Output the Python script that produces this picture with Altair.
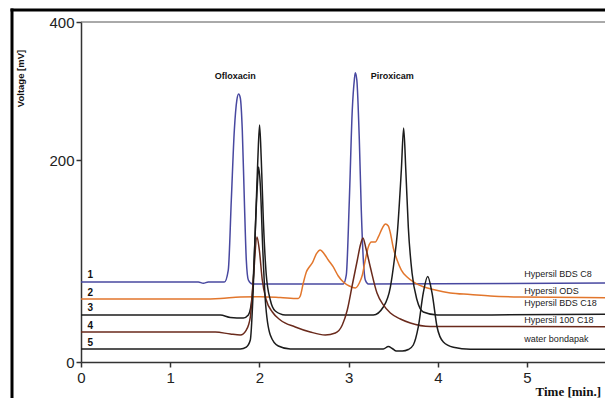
import altair as alt
import pandas as pd

# ---- data (time in min, signal in axis units) ----
series_names = ["Hypersil BDS C8", "Hypersil  ODS", "Hypersil BDS C18", "Hypersil 100 C18", "water bondapak"]
series_colors = ["#4848a0", "#e2762c", "#1c1c1c", "#6a2a1c", "#1c1c1c"]
series_numbers = ["1", "2", "3", "4", "5"]

t1 = [0, 1.315, 1.371, 1.427, 1.607, 1.651, 1.685, 1.719, 1.747, 1.767, 1.786, 1.808, 1.831, 1.853, 1.876, 1.920,
      2.941, 2.974, 3.008, 3.041, 3.064, 3.075, 3.092, 3.120, 3.142, 3.165, 3.187, 3.221, 5.96]
v1 = [94.1, 94.1, 92.6, 94.1, 94.1, 108.2, 190.6, 272.9, 308.2, 315.3, 310.6, 272.9, 190.6, 120.0, 96.5, 91.8,
      91.8, 102.4, 190.6, 296.5, 331.8, 340.4, 331.8, 261.2, 178.8, 120.0, 96.5, 91.8, 92.9]

t2 = [0, 1.337, 1.562, 1.786, 2.010, 2.234, 2.436, 2.458, 2.492, 2.526, 2.559, 2.593, 2.638, 2.682, 2.727, 2.772,
      2.828, 2.884, 2.941, 3.008, 3.075, 3.120, 3.154, 3.187, 3.221, 3.255, 3.299, 3.333, 3.378, 3.412, 3.445,
      3.468, 3.501, 3.543, 3.591, 3.655, 3.748, 3.837, 3.972, 4.140, 4.364, 4.589, 4.925, 5.96]
v2 = [74.1, 74.1, 74.7, 76.5, 76.8, 75.9, 74.7, 77.6, 92.9, 105.9, 111.8, 116.5, 127.1, 131.8, 127.1, 120.0,
      111.8, 101.2, 94.1, 89.4, 87.1, 92.9, 102.4, 120.0, 135.3, 141.2, 141.2, 147.1, 157.6, 162.4, 160.0,
      151.8, 134.1, 120.0, 108.2, 100.0, 92.9, 88.6, 84.7, 81.2, 79.4, 77.6, 76.5, 75.6]

t3 = [0, 1.562, 1.674, 1.820, 1.876, 1.920, 1.954, 1.982, 2.002, 2.021, 2.044, 2.077, 2.122, 2.178, 2.290,
      3.277, 3.389, 3.468, 3.512, 3.546, 3.591, 3.617, 3.641, 3.669, 3.711, 3.767, 3.837, 3.994, 5.96]
v3 = [55.3, 55.3, 52.4, 51.8, 55.3, 78.8, 155.3, 237.6, 278.8, 237.6, 167.1, 102.4, 72.9, 60.0, 55.3,
      55.3, 64.7, 88.2, 120.0, 151.8, 225.9, 275.3, 225.9, 158.8, 104.7, 72.9, 58.8, 55.3, 56.1]

t4 = [0, 1.506, 1.674, 1.786, 1.853, 1.898, 1.931, 1.973, 1.999, 2.032, 2.077, 2.145, 2.234, 2.402, 2.570,
      2.738, 2.851, 2.929, 2.985, 3.041, 3.098, 3.132, 3.161, 3.193, 3.243, 3.318, 3.389, 3.468, 3.580,
      3.692, 3.917, 5.96]
v4 = [35.3, 35.3, 32.9, 31.8, 37.6, 52.9, 96.5, 147.1, 131.8, 96.5, 72.9, 58.8, 49.4, 41.2, 35.3,
      31.8, 34.1, 43.5, 61.2, 90.6, 120.0, 137.6, 145.9, 134.1, 111.8, 81.2, 67.1, 57.6, 50.6,
      45.9, 41.8, 41.5]

t5 = [0, 1.786, 1.853, 1.898, 1.926, 1.954, 1.977, 1.991, 2.010, 2.038, 2.066, 2.122, 2.212, 2.346,
      3.389, 3.445, 3.490, 3.535, 3.602, 3.669, 3.725, 3.781, 3.837, 3.886, 3.935, 3.991, 4.062, 4.174,
      4.364, 5.96]
v5 = [15.3, 15.3, 17.6, 25.9, 72.9, 155.3, 208.2, 229.4, 208.2, 131.8, 72.9, 31.8, 18.8, 15.3,
      15.3, 18.2, 15.9, 12.9, 12.9, 14.7, 20.0, 41.2, 81.2, 100.6, 81.2, 41.5, 23.5, 17.3,
      14.9, 14.9]

# right-hand labels and left numbers (positions in data units)
label_t = [4.97, 4.97, 4.97, 4.97, 4.97]
label_v = [103.5, 83.9, 69.4, 49.4, 27.1]
number_t = [0.105, 0.105, 0.105, 0.105, 0.105]
number_v = [102.4, 81.2, 63.5, 42.7, 22.4]

compound_names = ["Ofloxacin", "Piroxicam"]
compound_t = [1.73, 3.49]
compound_v = [336.5, 336.5]

x_ticks = [0, 1, 2, 3, 4, 5]
y_tick_values = [0, 237.6, 400]
y_tick_labels = ["0", "200", "400"]

# ---- build tables ----
rows = []
for name, ts, vs in zip(series_names, [t1, t2, t3, t4, t5], [v1, v2, v3, v4, v5]):
    for t, v in zip(ts, vs):
        rows.append({"series": name, "t": t, "v": v})
df = pd.DataFrame(rows)

df_labels = pd.DataFrame({"text": series_names, "t": label_t, "v": label_v})
df_numbers = pd.DataFrame({"text": series_numbers, "t": number_t, "v": number_v})
df_compounds = pd.DataFrame({"text": compound_names, "t": compound_t, "v": compound_v})

label_expr = " : ".join(
    [f"abs(datum.value - {val}) < 1 ? '{lab}'" for val, lab in zip(y_tick_values, y_tick_labels)]
) + " : ''"

W, H = 524, 340
xscale = alt.Scale(domain=[0, 5.874], nice=False, zero=False)
yscale = alt.Scale(domain=[0, 400], nice=False, zero=False)

lines = alt.Chart(df).mark_line(strokeWidth=1.5, interpolate="monotone", clip=True).encode(
    x=alt.X("t:Q", scale=xscale, axis=alt.Axis(
        values=x_ticks, format="d", grid=False, labelFlush=False,
        domainColor="#333333", domainWidth=1.5, tickColor="#333333", tickWidth=1.5, tickSize=5,
        labelFont="Liberation Sans", labelFontSize=15, labelColor="#222222", labelPadding=3,
        title="Time [min.]", titleFont="Liberation Serif", titleFontSize=13, titleFontWeight="bold",
        titleColor="#111111", titleX=454, titleY=33, titleAlign="left", titleBaseline="alphabetic")),
    y=alt.Y("v:Q", scale=yscale, axis=alt.Axis(
        values=y_tick_values, labelExpr=label_expr, grid=False,
        domainColor="#333333", domainWidth=1.5, tickColor="#333333", tickWidth=1.5, tickSize=5,
        labelFont="Liberation Sans", labelFontSize=15, labelColor="#222222", labelPadding=2,
        title="Voltage [mV]", titleFont="Liberation Sans", titleFontSize=9.5, titleFontWeight="bold",
        titleColor="#111111", titleX=-61, titleY=56, titleAngle=270, titleAlign="center",
        titleBaseline="middle")),
    color=alt.Color("series:N", scale=alt.Scale(domain=series_names, range=series_colors), legend=None),
    order=alt.Order("t:Q"),
)

labels = alt.Chart(df_labels).mark_text(align="left", baseline="middle", font="Liberation Sans",
                                        fontSize=9, color="#222222").encode(
    x=alt.X("t:Q", scale=xscale), y=alt.Y("v:Q", scale=yscale), text="text:N")

numbers = alt.Chart(df_numbers).mark_text(align="center", baseline="middle", font="Liberation Sans",
                                          fontSize=10, fontWeight="bold", color="#111111").encode(
    x=alt.X("t:Q", scale=xscale), y=alt.Y("v:Q", scale=yscale), text="text:N")

compounds = alt.Chart(df_compounds).mark_text(align="center", baseline="middle", font="Liberation Sans",
                                              fontSize=9, fontWeight="bold", color="#111111").encode(
    x=alt.X("t:Q", scale=xscale), y=alt.Y("v:Q", scale=yscale), text="text:N")

one = pd.DataFrame({"a": [0]})
top_line = alt.Chart(one).mark_rule(color="#555555", strokeWidth=1).encode(
    x=alt.value(0), x2=alt.value(W), y=alt.value(0))
frame_left = alt.Chart(one).mark_rule(color="#000000", strokeWidth=3).encode(
    x=alt.value(-69), y=alt.value(-13.5), y2=alt.value(420))
frame_top = alt.Chart(one).mark_rule(color="#000000", strokeWidth=3).encode(
    x=alt.value(-70.5), x2=alt.value(W + 10), y=alt.value(-12))

chart = alt.layer(frame_left, frame_top, top_line, lines, labels, numbers, compounds).properties(
    width=W, height=H,
    autosize=alt.AutoSizeParams(type="none"),
    padding={"left": 73, "top": 14, "right": 0, "bottom": 36},
    background="white",
).configure_view(stroke=None)

chart.save("out.html", embed_options={"renderer": "svg", "actions": False})
